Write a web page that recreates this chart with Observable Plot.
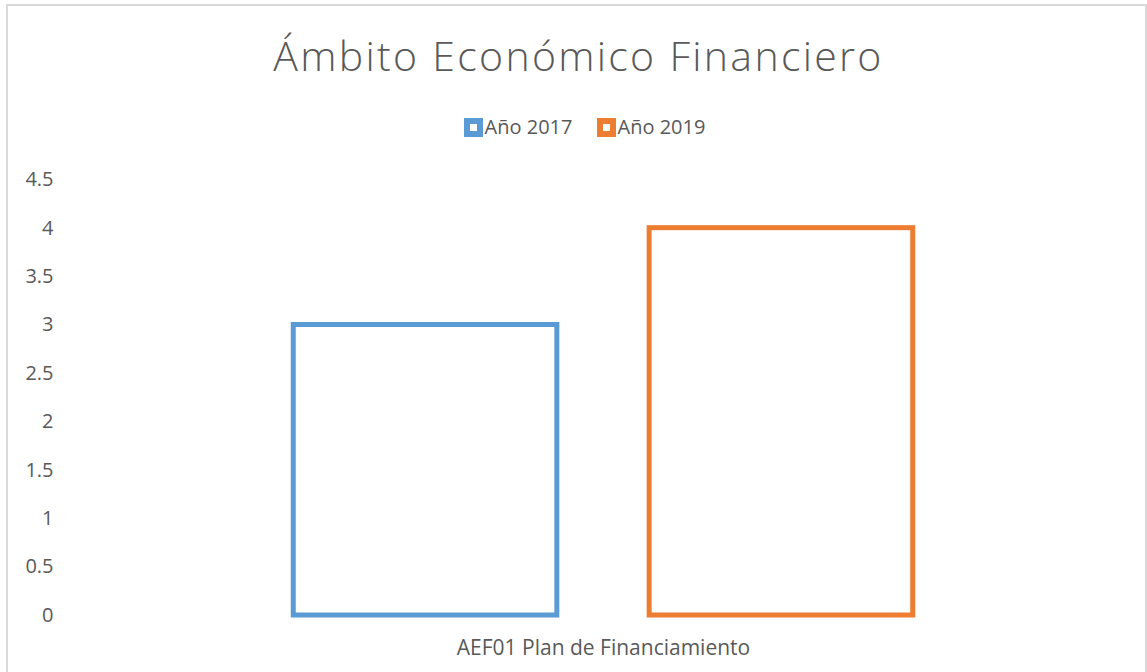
<!DOCTYPE html>
<html>
<head>
<meta charset="utf-8">
<script src="https://cdn.jsdelivr.net/npm/d3@7"></script>
<script src="https://cdn.jsdelivr.net/npm/@observablehq/plot@0.6"></script>
<style>
  html, body { margin: 0; padding: 0; background: #fff; overflow: hidden; }
  #wrap { position: relative; width: 1147px; height: 672px; overflow: hidden; font-family: "Open Sans", sans-serif; color: #595959; }
  #frame { position: absolute; left: 6px; top: 4px; width: 1141px; height: 700px; border: 2px solid #d9d9d9; box-sizing: border-box; }
  #title { position: absolute; left: 0; top: 35px; width: 1157px; text-align: center; font-size: 41px; line-height: 41px; font-weight: 300; letter-spacing: 2.3px; white-space: nowrap; }
  #legend { position: absolute; left: 0; top: 117px; width: 1169px; height: 20px; display: flex; justify-content: center; align-items: center; font-size: 20px; line-height: 20px; }
  .item { display: flex; align-items: center; margin: 0 12px; }
  .sw { width: 19px; height: 19px; box-sizing: border-box; border: 6px solid; background: #fff; margin-right: 2px; }
  #chart { position: absolute; left: 0; top: 150px; }
</style>
</head>
<body>
<div id="wrap">
  <div id="frame"></div>
  <div id="title">Ámbito Económico Financiero</div>
  <div id="legend"></div>
  <div id="chart"></div>
</div>
<script>
const titleText = "Ámbito Económico Financiero";
const categories = ["AEF01 Plan de Financiamiento"];
const series = ["Año 2017", "Año 2019"];
const values2017 = [3];
const values2019 = [4];
const colors = ["#5B9BD5", "#ED7D31"];
const yTicks = [0, 0.5, 1, 1.5, 2, 2.5, 3, 3.5, 4, 4.5];

const data = [];
categories.forEach((c, i) => {
  data.push({category: c, series: series[0], value: values2017[i]});
  data.push({category: c, series: series[1], value: values2019[i]});
});

// legend
const legend = document.getElementById("legend");
series.forEach((s, i) => {
  const item = document.createElement("div");
  item.className = "item";
  const sw = document.createElement("div");
  sw.className = "sw";
  sw.style.borderColor = colors[i];
  const t = document.createElement("span");
  t.textContent = s;
  item.appendChild(sw);
  item.appendChild(t);
  legend.appendChild(item);
});

const plot = Plot.plot({
  width: 1147,
  height: 522,
  marginLeft: 70,
  marginRight: 11,
  marginTop: 29.25,
  marginBottom: 57,
  style: {fontFamily: "Open Sans, sans-serif", fontSize: "20px", color: "#595959", background: "transparent", overflow: "visible"},
  fx: {domain: categories, padding: 0, label: null},
  x: {domain: series, axis: null, paddingInner: 0.2594, paddingOuter: 0.6273, round: false},
  y: {domain: [0, 4.5], label: null},
  color: {domain: series, range: colors},
  marks: [
    Plot.axisY({ticks: yTicks, tickFormat: d => String(d), tickSize: 0, tickPadding: 17, label: null, fill: "#595959"}),
    Plot.axisFx({anchor: "bottom", tickSize: 0, tickPadding: 25, label: null, fontSize: 21, fill: "#595959"}),
    Plot.barY(data, {fx: "category", x: "series", y: "value", stroke: "series", fill: "white", strokeWidth: 5, inset: 0})
  ]
});
document.getElementById("chart").appendChild(plot);
</script>
</body>
</html>
